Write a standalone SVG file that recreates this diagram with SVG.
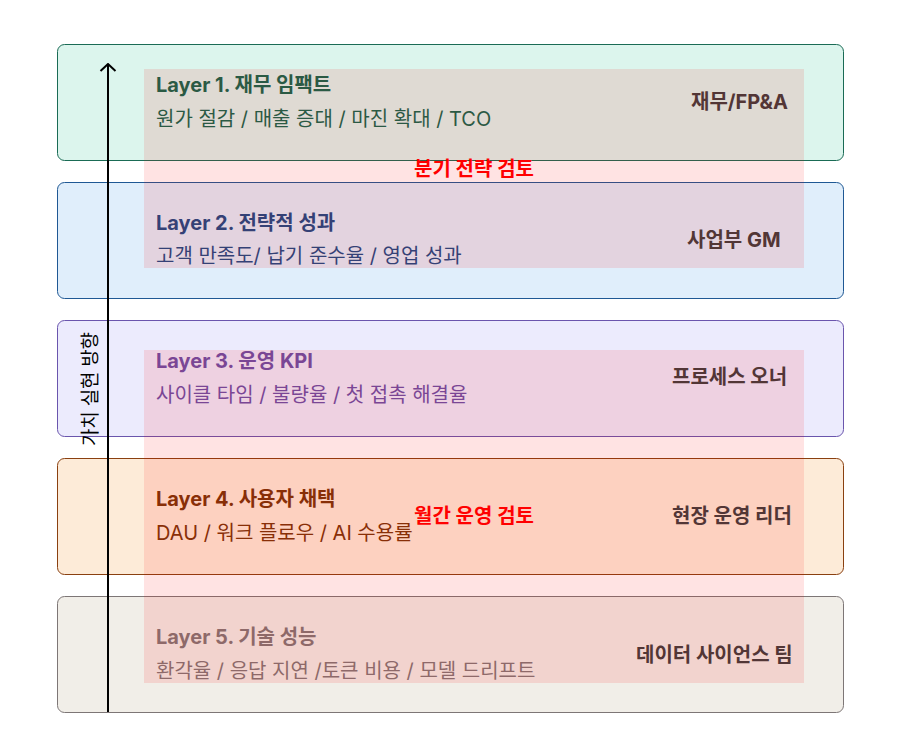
<svg xmlns="http://www.w3.org/2000/svg" width="900" height="756" viewBox="0 0 900 756">
<style>
  text { font-family: Inter, "Noto Sans CJK KR", "Noto Sans", sans-serif; }
  .box { stroke-width: 1; }
  .title { font-size: 20px; font-weight: 700; }
  .sub { font-size: 20px; font-weight: 400; }
  .owner { font-size: 20px; font-weight: 700; fill: #3d3d3d; }
  .overlay { fill: #ff0000; fill-opacity: 0.11; }
  .review { font-size: 20px; font-weight: 700; fill: #ff0000; text-anchor: middle; }
  .axis { font-size: 19px; fill: #000000; text-anchor: middle; }
</style>
<defs>
  <marker id="arrowOpen" markerUnits="userSpaceOnUse" markerWidth="18" markerHeight="12" refX="8" refY="1" orient="0" viewBox="0 0 16 12">
    <path d="M0.5,8 L8,1 L15.5,8" fill="none" stroke="#000" stroke-width="2"/>
  </marker>
</defs>
<rect width="900" height="756" fill="#ffffff"/>

<g id="layer1">
  <rect class="box" x="57.5" y="44.5" width="786" height="116" rx="7" fill="#dcf5ed" stroke="#1a6b55"/>
  <text class="title" x="156" y="92" fill="#10664d">Layer 1. 재무 임팩트</text>
  <text class="sub" x="156" y="126" fill="#10664d">원가 절감 / 매출 증대 / 마진 확대 / TCO</text>
  <text class="owner" x="691" y="109">재무/FP&amp;A</text>
</g>
<g id="layer2">
  <rect class="box" x="57.5" y="182.5" width="786" height="116" rx="7" fill="#e0eefb" stroke="#1f5894"/>
  <text class="title" x="156" y="230" fill="#1b4a85">Layer 2. 전략적 성과</text>
  <text class="sub" x="156" y="263" fill="#1b4a85">고객 만족도/ 납기 준수율 / 영업 성과</text>
  <text class="owner" x="687" y="247">사업부 GM</text>
</g>
<g id="layer3">
  <rect class="box" x="57.5" y="320.5" width="786" height="116" rx="7" fill="#ecebfd" stroke="#6a55ad"/>
  <text class="title" x="156" y="368" fill="#6a4fa8">Layer 3. 운영 KPI</text>
  <text class="sub" x="156" y="402" fill="#6a4fa8">사이클 타임 / 불량율 / 첫 접촉 해결율</text>
  <text class="owner" x="672" y="384">프로세스 오너</text>
</g>
<g id="layer4">
  <rect class="box" x="57.5" y="458.5" width="786" height="116" rx="7" fill="#fdebd8" stroke="#8a4010"/>
  <text class="title" x="156" y="506" fill="#7a3508">Layer 4. 사용자 채택</text>
  <text class="sub" x="156" y="540" fill="#7a3508">DAU / 워크 플로우 / AI 수용률</text>
  <text class="owner" x="672" y="523">현장 운영 리더</text>
</g>
<g id="layer5">
  <rect class="box" x="57.5" y="596.5" width="786" height="116" rx="7" fill="#f1eee8" stroke="#7d7676"/>
  <text class="title" x="156" y="644" fill="#807777">Layer 5. 기술 성능</text>
  <text class="sub" x="156" y="678" fill="#807777">환각율 / 응답 지연 /토큰 비용 / 모델 드리프트</text>
  <text class="owner" x="636" y="662">데이터 사이언스 팀</text>
</g>

<g id="quarterly-review">
  <rect class="overlay" x="144" y="69" width="660" height="199"/>
  <text class="review" x="474" y="176">분기 전략 검토</text>
</g>
<g id="monthly-review">
  <rect class="overlay" x="144" y="350" width="660" height="333"/>
  <text class="review" x="474" y="523">월간 운영 검토</text>
</g>

<g id="connectors">
  <line x1="108" y1="712" x2="108" y2="64" stroke="#000" stroke-width="2" marker-end="url(#arrowOpen)"/>
</g>
<g id="axis-label">
  <text class="axis" transform="translate(97,389) rotate(-90)" textLength="114" lengthAdjust="spacing">가치 실현 방향</text>
</g>
</svg>
